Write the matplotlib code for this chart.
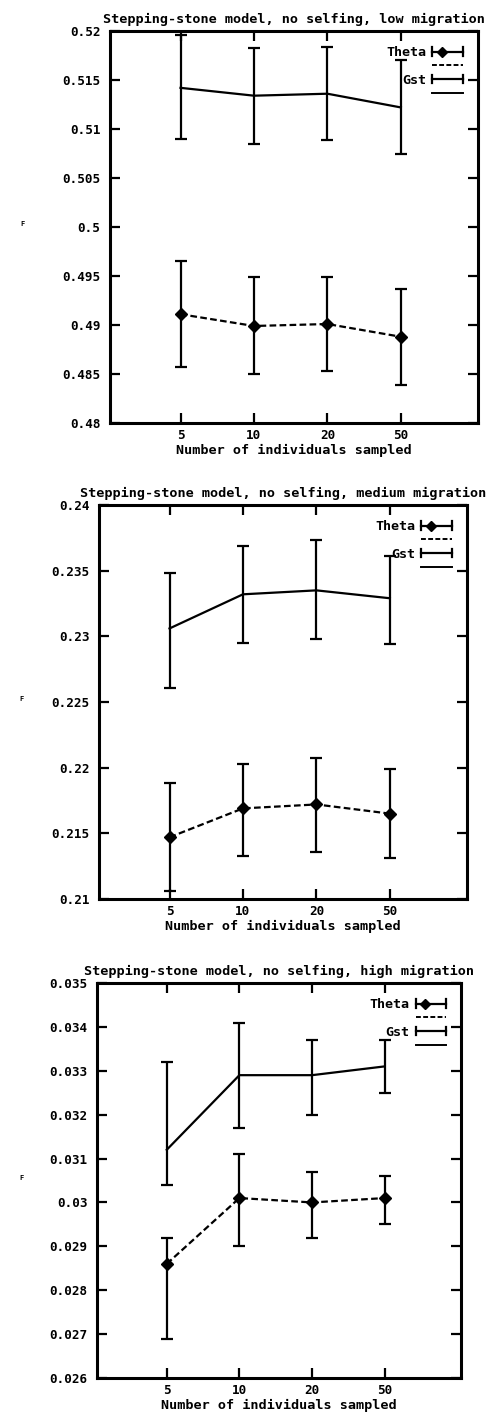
import matplotlib
matplotlib.use("Agg")
import matplotlib.pyplot as plt
from matplotlib.lines import Line2D
from matplotlib.legend_handler import HandlerBase

# Sample sizes (categorical x axis)
sample_sizes = ["5", "10", "20", "50"]

# Low migration
low_theta = [0.4911, 0.4899, 0.4901, 0.4888]
low_theta_lo = [0.4857, 0.4850, 0.4853, 0.4839]
low_theta_hi = [0.4965, 0.4949, 0.4949, 0.4937]
low_gst = [0.5142, 0.5134, 0.5136, 0.5122]
low_gst_lo = [0.5090, 0.5085, 0.5089, 0.5075]
low_gst_hi = [0.5196, 0.5183, 0.5184, 0.5170]

# Medium migration
med_theta = [0.2147, 0.2169, 0.2172, 0.2165]
med_theta_lo = [0.2106, 0.2133, 0.2136, 0.2131]
med_theta_hi = [0.2188, 0.2203, 0.2207, 0.2199]
med_gst = [0.2306, 0.2332, 0.2335, 0.2329]
med_gst_lo = [0.2261, 0.2295, 0.2298, 0.2294]
med_gst_hi = [0.2348, 0.2369, 0.2373, 0.2361]

# High migration
high_theta = [0.0286, 0.0301, 0.0300, 0.0301]
high_theta_lo = [0.0269, 0.0290, 0.0292, 0.0295]
high_theta_hi = [0.0292, 0.0311, 0.0307, 0.0306]
high_gst = [0.0312, 0.0329, 0.0329, 0.0331]
high_gst_lo = [0.0304, 0.0317, 0.0320, 0.0325]
high_gst_hi = [0.0332, 0.0341, 0.0337, 0.0337]

titles = [
    "Stepping-stone model, no selfing, low migration",
    "Stepping-stone model, no selfing, medium migration",
    "Stepping-stone model, no selfing, high migration",
]
y_ranges = [(0.48, 0.52, 0.005), (0.21, 0.24, 0.005), (0.026, 0.035, 0.001)]

W, H = 492, 1414
# axes boxes in pixels: left, top, right, bottom
boxes = [(110, 31, 478, 423), (99, 505, 467, 899), (97, 983, 461, 1378)]

FONT = "DejaVu Sans Mono"
plt.rcParams["font.family"] = FONT
plt.rcParams["font.weight"] = "bold"


class ErrSample(HandlerBase):
    """Legend sample: horizontal bar with end caps, optional diamond."""

    def __init__(self, diamond):
        super().__init__()
        self.diamond = diamond

    def create_artists(self, legend, orig_handle, xdescent, ydescent,
                       width, height, fontsize, trans):
        y = height / 2 - ydescent
        x0, x1 = -xdescent, width - xdescent
        cap = height * 0.45
        arts = [
            Line2D([x0, x1], [y, y], color="black", lw=1.6),
            Line2D([x0, x0], [y - cap, y + cap], color="black", lw=1.6),
            Line2D([x1, x1], [y - cap, y + cap], color="black", lw=1.6),
        ]
        if self.diamond:
            arts.append(Line2D([x0 + (x1 - x0) * 0.3], [y], marker="D",
                               markersize=5, color="black", lw=0))
        for a in arts:
            a.set_transform(trans)
        return arts


def fmt_tick(v):
    return f"{v:.3f}".rstrip("0").rstrip(".")


datasets = [
    (low_theta, low_theta_lo, low_theta_hi, low_gst, low_gst_lo, low_gst_hi),
    (med_theta, med_theta_lo, med_theta_hi, med_gst, med_gst_lo, med_gst_hi),
    (high_theta, high_theta_lo, high_theta_hi, high_gst, high_gst_lo, high_gst_hi),
]

fig = plt.figure(figsize=(W / 100, H / 100), dpi=100)
x = [1, 2, 3, 4]

for i, (ds, box) in enumerate(zip(datasets, boxes)):
    th, th_lo, th_hi, gs, gs_lo, gs_hi = ds
    l, t, r, b = box
    ax = fig.add_axes([l / W, 1 - b / H, (r - l) / W, (b - t) / H])

    th_err = [[m - lo for m, lo in zip(th, th_lo)], [hi - m for m, hi in zip(th, th_hi)]]
    gs_err = [[m - lo for m, lo in zip(gs, gs_lo)], [hi - m for m, hi in zip(gs, gs_hi)]]

    ax.errorbar(x, th, yerr=th_err, fmt="none", ecolor="black", elinewidth=1.6,
                capsize=4, capthick=1.6)
    ax.plot(x, th, color="black", lw=1.6, ls=(0, (3, 1.5)), marker="D",
            markersize=6)
    ax.errorbar(x, gs, yerr=gs_err, fmt="none", ecolor="black", elinewidth=1.6,
                capsize=4, capthick=1.6)
    ax.plot(x, gs, color="black", lw=1.6, ls="-")

    lo, hi, step = y_ranges[i]
    ax.set_ylim(lo, hi)
    ax.set_xlim(0.04, 5.05)
    n = int(round((hi - lo) / step))
    ticks = [lo + k * step for k in range(n + 1)]
    ax.set_yticks(ticks)
    ax.set_yticklabels([fmt_tick(v) for v in ticks])
    ax.set_xticks(x)
    ax.set_xticklabels(sample_sizes)

    ax.tick_params(direction="in", length=7, width=1.6, top=True, right=True,
                   labelsize=9.1)
    ax.tick_params(axis="y", pad=7)
    ax.tick_params(axis="x", pad=4)
    for sp in ax.spines.values():
        sp.set_linewidth(2.2)

    ax.set_title(titles[i], fontsize=9.7, fontweight="bold", pad=6)
    ax.set_xlabel("Number of individuals sampled", fontsize=9.7,
                  fontweight="bold", labelpad=1.5)
    ax.set_ylabel("F", fontsize=5, fontweight="bold", rotation=0)
    ax.yaxis.set_label_coords((22 - l) / (r - l), 0.5)

    theta_line = Line2D([], [], color="black", lw=1.4, ls=(0, (2.5, 1.2)))
    gst_line = Line2D([], [], color="black", lw=1.4, ls="-")
    leg = ax.legend(
        ["theta_err", theta_line, "gst_err", gst_line],
        ["Theta", "", "Gst", ""],
        handler_map={"theta_err": ErrSample(True), "gst_err": ErrSample(False)},
        loc="upper right", bbox_to_anchor=(0.985, 0.985), frameon=False,
        markerfirst=False, handlelength=2.3, handletextpad=0.45,
        labelspacing=0.05, fontsize=9.6, borderpad=0.2,
    )
    for txt in leg.get_texts():
        txt.set_fontweight("bold")

fig.savefig("out.png", dpi=100, facecolor="white")
